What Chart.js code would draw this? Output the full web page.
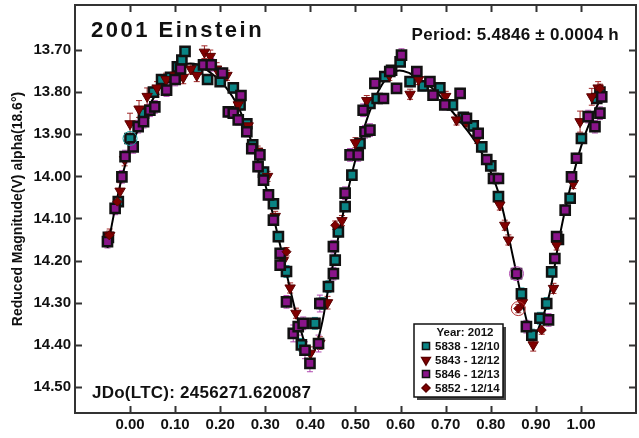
<!DOCTYPE html>
<html>
<head>
<meta charset="utf-8">
<script src="https://cdn.jsdelivr.net/npm/chart.js@4.4.0/dist/chart.umd.min.js"></script>
<style>
  body { margin: 0; background: #fff; }
  #wrap { width: 639px; height: 438px; }
</style>
</head>
<body>
<div id="wrap"><canvas id="lc" width="639" height="438"></canvas></div>
<script>
// ticks
const xTicks = [0, 0.1, 0.2, 0.3, 0.4, 0.5, 0.6, 0.7, 0.8, 0.9, 1.0]
const yTicks = [13.7, 13.8, 13.9, 14.0, 14.1, 14.2, 14.3, 14.4, 14.5]

// series: [phase, mag, err]
const s5838 = [
  [-0.048,14.145,0.012],[-0.026,14.060,0.012],[0.000,13.910,0.012],[0.030,13.850,0.012],
  [0.052,13.800,0.012],[0.070,13.770,0.012],[0.090,13.765,0.010],[0.105,13.740,0.010],
  [0.115,13.724,0.010],[0.122,13.703,0.010],[0.150,13.745,0.010],[0.172,13.770,0.010],
  [0.200,13.775,0.010],[0.229,13.790,0.012],[0.244,13.830,0.012],[0.259,13.875,0.012],
  [0.272,13.925,0.012],[0.296,13.990,0.012],[0.318,14.065,0.012],[0.329,14.143,0.012],
  [0.347,14.226,0.014],[0.380,14.400,0.015],[0.410,14.349,0.014],[0.425,14.302,0.014],
  [0.440,14.262,0.014],[0.455,14.199,0.012],[0.462,14.132,0.012],[0.477,14.072,0.012],
  [0.492,13.997,0.012],[0.510,13.922,0.012],[0.532,13.827,0.012],[0.548,13.815,0.012],
  [0.565,13.763,0.010],[0.580,13.748,0.010],[0.599,13.728,0.010],[0.621,13.775,0.012],
  [0.650,13.785,0.012],[0.687,13.790,0.012],[0.715,13.830,0.012],[0.739,13.860,0.012],
  [0.761,13.880,0.012],[0.780,13.930,0.012],[0.800,13.975,0.012],[0.817,14.048,0.012],
  [0.868,14.279,0.014],[0.891,14.377,0.014],[0.909,14.337,0.014],[0.924,14.302,0.014],
  [0.935,14.227,0.012],[0.950,14.150,0.012],[0.976,14.052,0.012],[1.001,13.910,0.012],
  [1.035,13.815,0.012],[1.042,13.800,0.012]
]
const s5843 = [
  [-0.045,14.140,0.015],[-0.022,14.035,0.020],[-0.012,13.960,0.015],[0.000,13.875,0.025],
  [0.020,13.840,0.020],[0.038,13.810,0.020],[0.060,13.790,0.015],[0.080,13.770,0.015],
  [0.100,13.760,0.015],[0.118,13.765,0.015],[0.135,13.745,0.012],[0.148,13.760,0.015],
  [0.165,13.705,0.015],[0.178,13.715,0.015],[0.192,13.745,0.015],[0.215,13.760,0.012],
  [0.240,13.830,0.012],[0.262,13.880,0.012],[0.283,13.940,0.012],[0.305,14.000,0.012],
  [0.322,14.095,0.012],[0.340,14.200,0.012],[0.355,14.265,0.012],[0.368,14.325,0.012],
  [0.400,14.420,0.015],[0.421,14.396,0.015],[0.438,14.300,0.015],[0.470,14.105,0.012],
  [0.500,13.920,0.012],[0.525,13.820,0.012],[0.575,13.760,0.012],[0.621,13.805,0.012],
  [0.640,13.770,0.012],[0.700,13.810,0.012],[0.724,13.866,0.012],[0.745,13.870,0.012],
  [0.770,13.910,0.012],[0.820,14.068,0.012],[0.831,14.116,0.012],[0.839,14.151,0.012],
  [0.870,14.300,0.012],[0.894,14.400,0.015],[0.939,14.266,0.012],[0.946,14.163,0.012],
  [0.983,14.017,0.012],[0.998,13.870,0.025],[1.024,13.811,0.020],[1.038,13.790,0.015]
]
const s5846 = [
  [-0.050,14.155,0.015],[-0.033,14.076,0.015],[-0.018,14.001,0.015],[-0.011,13.953,0.015],
  [0.007,13.930,0.015],[0.018,13.882,0.015],[0.030,13.870,0.015],[0.044,13.843,0.015],
  [0.055,13.835,0.015],[0.081,13.795,0.015],[0.100,13.770,0.015],[0.112,13.745,0.012],
  [0.163,13.735,0.012],[0.180,13.735,0.015],[0.205,13.755,0.012],[0.218,13.847,0.012],
  [0.229,13.850,0.012],[0.240,13.866,0.012],[0.246,13.808,0.012],[0.259,13.894,0.012],
  [0.270,13.934,0.012],[0.284,13.977,0.012],[0.288,13.949,0.012],[0.296,14.009,0.012],
  [0.307,14.044,0.012],[0.318,14.104,0.012],[0.333,14.183,0.012],[0.333,14.211,0.012],
  [0.347,14.298,0.015],[0.362,14.373,0.020],[0.373,14.357,0.020],[0.384,14.349,0.015],
  [0.388,14.413,0.020],[0.399,14.444,0.020],[0.418,14.397,0.020],[0.421,14.302,0.020],
  [0.451,14.231,0.015],[0.451,14.167,0.015],[0.477,14.040,0.015],[0.488,13.949,0.015],
  [0.506,13.949,0.015],[0.517,13.843,0.015],[0.521,13.894,0.015],[0.532,13.890,0.015],
  [0.543,13.779,0.012],[0.562,13.815,0.012],[0.576,13.751,0.012],[0.591,13.791,0.012],
  [0.602,13.712,0.015],[0.636,13.751,0.012],[0.665,13.775,0.012],[0.672,13.807,0.012],
  [0.698,13.830,0.012],[0.732,13.803,0.012],[0.746,13.862,0.012],[0.772,13.898,0.012],
  [0.791,13.960,0.012],[0.806,14.005,0.012],[0.817,14.005,0.012],[0.857,14.231,0.012],
  [0.879,14.357,0.015],[0.928,14.341,0.015],[0.942,14.195,0.012],[0.946,14.143,0.012],
  [0.965,14.080,0.012],[0.979,14.001,0.012],[0.990,13.957,0.012],[1.016,13.858,0.015],
  [1.031,13.882,0.015],[1.042,13.850,0.015],[1.046,13.811,0.012]
]
const s5852 = [
  [-0.046,14.140,0.010],[-0.028,14.060,0.010],[0.347,14.179,0.010],[0.455,14.116,0.010],
  [0.861,14.314,0.010],[0.913,14.365,0.010],[1.042,13.791,0.010]
]
// excluded points (open circles)
const ringPts = [[0.000,13.910],[0.857,14.231],[0.861,14.314]]
const ringCols = ['#1a9a9a', '#b048b0', '#b03030']

// fourier fit
const fitPhase = [-0.05,-0.03,-0.01,0.01,0.03,0.06,0.09,0.12,0.15,0.18,0.21,0.24,0.27,0.30,0.33,0.36,0.38,0.40,0.42,0.44,0.46,0.48,0.50,0.53,0.56,0.59,0.62,0.65,0.68,0.71,0.74,0.77,0.80,0.82,0.85,0.88,0.893,0.91,0.93,0.955,0.98,1.00,1.02,1.05]
const fitMag = [14.17,14.06,13.97,13.91,13.86,13.80,13.76,13.735,13.735,13.755,13.785,13.835,13.92,14.02,14.15,14.29,14.37,14.425,14.375,14.265,14.155,14.05,13.96,13.85,13.78,13.75,13.755,13.775,13.80,13.84,13.88,13.925,13.99,14.05,14.195,14.345,14.382,14.35,14.28,14.13,14.01,13.93,13.87,13.80]

const legendLabels = ['5838 - 12/10', '5843 - 12/12', '5846 - 12/13', '5852 - 12/14']
const FONT = '"Liberation Sans", Arial, sans-serif'

const toPts = arr => arr.map(p => ({ x: p[0], y: p[1], e: p[2] }))

const styles = [
  { pointStyle: 'rect', radius: 6.5, rotation: 0, fill: '#0a8585', border: '#111', bw: 2.5, bar: '#1a9a9a' },
  { pointStyle: 'triangle', radius: 6, rotation: 180, fill: '#800000', border: '#5a0000', bw: 1, bar: '#a02828' },
  { pointStyle: 'rect', radius: 6.5, rotation: 0, fill: '#8a148a', border: '#111', bw: 2.5, bar: '#b048b0' },
  { pointStyle: 'rectRot', radius: 4.5, rotation: 0, fill: '#800000', border: '#5a0000', bw: 1, bar: '#a02828' }
]

function mkSet(arr, st, order) {
  return {
    data: toPts(arr), showLine: false, order,
    pointStyle: st.pointStyle, pointRadius: st.radius, pointRotation: st.rotation,
    backgroundColor: st.fill, borderColor: st.border, borderWidth: st.bw,
    errColor: st.bar
  }
}

const errorBars = {
  id: 'errorBars',
  beforeDatasetsDraw(chart) {
    const ctx = chart.ctx, xs = chart.scales.x, ys = chart.scales.y
    ctx.save()
    ctx.lineWidth = 1
    chart.data.datasets.forEach(ds => {
      if (!ds.errColor) return
      ctx.strokeStyle = ds.errColor
      ds.data.forEach(p => {
        const px = xs.getPixelForValue(p.x)
        const a = ys.getPixelForValue(p.y - p.e), b = ys.getPixelForValue(p.y + p.e)
        ctx.beginPath()
        ctx.moveTo(px, a); ctx.lineTo(px, b)
        ctx.moveTo(px - 3, a); ctx.lineTo(px + 3, a)
        ctx.moveTo(px - 3, b); ctx.lineTo(px + 3, b)
        ctx.stroke()
      })
    })
    ctx.restore()
  }
}

const decor = {
  id: 'decor',
  afterDraw(chart) {
    const ctx = chart.ctx, ca = chart.chartArea, xs = chart.scales.x, ys = chart.scales.y
    ctx.save()
    // frame + inward ticks
    ctx.strokeStyle = '#333'
    ctx.lineWidth = 2
    ctx.strokeRect(ca.left, ca.top, ca.right - ca.left, ca.bottom - ca.top)
    ctx.beginPath()
    xTicks.forEach(v => {
      const px = Math.round(xs.getPixelForValue(v)) + 0.5
      ctx.moveTo(px, ca.top); ctx.lineTo(px, ca.top + 7)
      ctx.moveTo(px, ca.bottom); ctx.lineTo(px, ca.bottom - 7)
    })
    yTicks.forEach(v => {
      const py = Math.round(ys.getPixelForValue(v)) + 0.5
      ctx.moveTo(ca.left, py); ctx.lineTo(ca.left + 7, py)
      ctx.moveTo(ca.right, py); ctx.lineTo(ca.right - 7, py)
    })
    ctx.stroke()

    // texts
    ctx.fillStyle = '#111'
    ctx.textBaseline = 'alphabetic'
    ctx.font = 'bold 22px ' + FONT
    ctx.letterSpacing = '2.5px'
    ctx.textAlign = 'left'
    ctx.fillText('2001 Einstein', 91, 37)
    ctx.letterSpacing = '0.25px'
    ctx.font = 'bold 17px ' + FONT
    ctx.textAlign = 'right'
    ctx.fillText('Period: 5.4846 \u00b1 0.0004 h', 619, 40)
    ctx.textAlign = 'left'
    ctx.fillText('JDo(LTC): 2456271.620087', 92, 398)
    ctx.letterSpacing = '0px'

    // y title
    ctx.save()
    ctx.translate(22, (ca.top + ca.bottom) / 2)
    ctx.rotate(-Math.PI / 2)
    ctx.textAlign = 'center'
    ctx.font = 'bold 14px ' + FONT
    ctx.fillText('Reduced Magnitude(V) alpha(18.6\u00b0)', 0, 0)
    ctx.restore()

    // legend box
    const lx = 414, ly = 324, lw = 89, lh = 73
    ctx.fillStyle = '#444'
    ctx.fillRect(lx + 3, ly + 3, lw, lh)
    ctx.fillStyle = '#fff'
    ctx.fillRect(lx, ly, lw, lh)
    ctx.strokeStyle = '#111'
    ctx.lineWidth = 1.5
    ctx.strokeRect(lx, ly, lw, lh)
    ctx.fillStyle = '#111'
    ctx.font = 'bold 11.5px ' + FONT
    ctx.textAlign = 'center'
    ctx.fillText('Year: 2012', 465, 336)
    ctx.textAlign = 'left'
    legendLabels.forEach((t, i) => {
      const yy = 350 + i * 14
      const st = styles[i]
      ctx.fillStyle = st.fill
      ctx.strokeStyle = st.border
      Chart.helpers.drawPoint(ctx, {
        pointStyle: st.pointStyle, radius: st.pointStyle === 'rectRot' ? 4 : 5,
        rotation: st.rotation, borderWidth: st.bw > 2 ? 2 : 1
      }, 426, yy - 4)
      ctx.fillStyle = '#111'
      ctx.fillText(t, 435, yy)
    })
    ctx.restore()
  }
}

const tickFont = { family: FONT, size: 15, weight: 'bold' }
const noPad = s => { s.paddingTop = 0; s.paddingBottom = 0; s.paddingLeft = 0; s.paddingRight = 0 }

new Chart(document.getElementById('lc'), {
  type: 'scatter',
  data: {
    datasets: [
      mkSet(s5838, styles[0], 4),
      mkSet(s5843, styles[1], 3),
      mkSet(s5846, styles[2], 2),
      mkSet(s5852, styles[3], 1),
      {
        data: ringPts.map(p => ({ x: p[0], y: p[1] })), order: 0,
        pointStyle: 'circle', pointRadius: 7, backgroundColor: 'rgba(0,0,0,0)',
        borderColor: ringCols, borderWidth: 1
      },
      {
        data: fitPhase.map((v, i) => ({ x: v, y: fitMag[i] })), order: 6,
        showLine: true, pointRadius: 0, borderColor: '#000', borderWidth: 2, tension: 0.4
      }
    ]
  },
  options: {
    responsive: false,
    animation: false,
    devicePixelRatio: 1,
    layout: { autoPadding: false, padding: { top: 5, right: 3, left: 0, bottom: 0 } },
    plugins: { legend: { display: false }, tooltip: { enabled: false } },
    scales: {
      x: {
        type: 'linear', min: -0.122, max: 1.122,
        afterBuildTicks: s => { s.ticks = xTicks.map(v => ({ value: v })) },
        afterFit: s => { s.height = 25; noPad(s) },
        ticks: { callback: v => v.toFixed(2), font: tickFont, color: '#111', padding: 3, maxRotation: 0, autoSkip: false },
        grid: { display: false, drawTicks: false },
        border: { display: false }
      },
      y: {
        type: 'linear', reverse: true, min: 13.593, max: 14.562,
        afterBuildTicks: s => { s.ticks = yTicks.map(v => ({ value: v })) },
        afterFit: s => { s.width = 75; noPad(s) },
        ticks: { callback: v => v.toFixed(2), font: tickFont, color: '#111', padding: 4, autoSkip: false },
        grid: { display: false, drawTicks: false },
        border: { display: false }
      }
    }
  },
  plugins: [errorBars, decor]
})
</script>
</body>
</html>
